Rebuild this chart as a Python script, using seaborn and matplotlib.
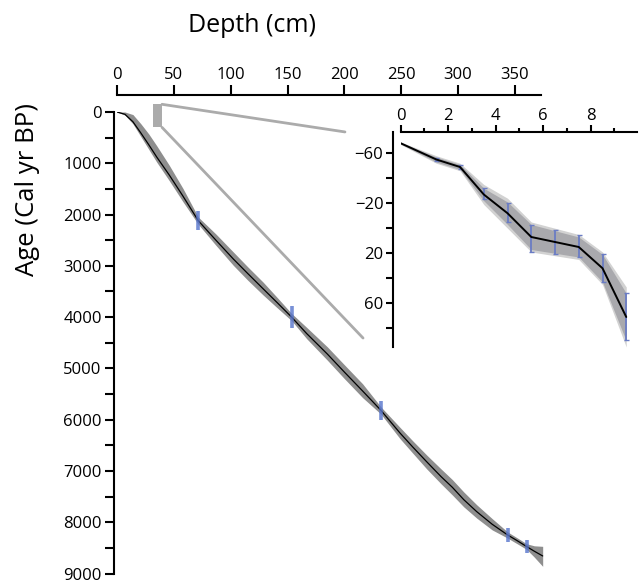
import numpy as np
import pandas as pd
import matplotlib
matplotlib.use("Agg")
import matplotlib.pyplot as plt
import seaborn as sns
from matplotlib.patches import Rectangle
from matplotlib.ticker import MultipleLocator

# ---------------- data ----------------
depth = [0, 7, 14, 21, 28, 35, 46, 58, 71.5, 87, 102.3, 115, 128.6, 141, 153.6,
         166.8, 185, 200.0, 216, 232.1, 248.9, 260, 272.4, 285, 295.0, 305,
         316.4, 330, 343.6, 352, 360.3, 367, 374.4]
age = [0, 45, 190, 410, 640, 880, 1230, 1640, 2120, 2500, 2866, 3150, 3449,
       3720, 4000, 4320, 4720, 5072, 5440, 5817, 6260, 6530, 6821, 7110, 7320,
       7560, 7794, 8040, 8249, 8360, 8475, 8565, 8658]
age_lo = [0, 0, 50, 230, 430, 660, 1040, 1490, 2050, 2380, 2730, 3020, 3320,
          3620, 3930, 4200, 4580, 4930, 5300, 5750, 6150, 6410, 6690, 6960,
          7170, 7410, 7660, 7930, 8190, 8305, 8420, 8460, 8470]
age_hi = [0, 60, 230, 480, 730, 980, 1340, 1750, 2190, 2600, 2990, 3280,
          3570, 3820, 4070, 4420, 4840, 5200, 5570, 5890, 6370, 6650, 6960,
          7250, 7470, 7700, 7920, 8150, 8310, 8420, 8530, 8680, 8860]

date_depth = [71.5, 153.6, 232.1, 343.6, 360.3]
date_age = [2120, 4000, 5817, 8249, 8475]
date_err = [190, 210, 190, 145, 130]

# inset (top ~10 cm)
in_depth = [0, 1.5, 2.5, 3.5, 4.5, 5.5, 6.5, 7.5, 8.5, 9.5]
in_age = [-68, -55, -49, -27, -12, 7, 11, 15, 32, 71]
in_outer = [1, 3, 3, 8, 12, 12, 11, 10, 13, 24]
in_inner = [0.5, 2, 2, 5, 9, 10, 9, 8, 11, 19]
in_date_depth = [1.5, 2.5, 3.5, 4.5, 5.5, 6.5, 7.5, 8.5, 9.5]
in_date_age = [-55, -49, -28, -13, 8, 11, 14, 32, 70.5]
in_date_err = [1, 1.3, 4.5, 7.6, 10.7, 9.3, 8.7, 11.2, 19]

main_xticks = [0, 50, 100, 150, 200, 250, 300, 350]
main_yticks = [0, 1000, 2000, 3000, 4000, 5000, 6000, 7000, 8000, 9000]
in_xticks = [0, 2, 4, 6, 8]
in_yticks = [-60, -20, 20, 60]

# zoom indicator (data coordinates of main axes)
zoom_box = (31.7, -150, 39.6, 300)
zoom_line1 = ([39.6, 200.5], [-150, 389])
zoom_line2 = ([39.6, 216.4], [300, 4408])

# ---------------- style ----------------
sns.set_theme(style="ticks")
plt.rcParams['font.family'] = ['Open Sans', 'DejaVu Sans']
plt.rcParams['axes.linewidth'] = 1.5
plt.rcParams['xtick.major.width'] = 1.5
plt.rcParams['ytick.major.width'] = 1.5
plt.rcParams['xtick.minor.width'] = 1.5
plt.rcParams['ytick.minor.width'] = 1.5

W, H = 639, 582
fig = plt.figure(figsize=(W / 100, H / 100), dpi=100)
fig.patch.set_facecolor('white')

# ---------------- main axes ----------------
ax = fig.add_axes([117 / W, (H - 573.5) / H, 427.5 / W, 461.5 / H])
ax.set_facecolor('none')

ax.fill_between(depth, age_lo, age_hi, color='#8e8e8e', lw=0, zorder=2)
main_df = pd.DataFrame({'depth': depth, 'age': age})
sns.lineplot(data=main_df, x='depth', y='age', ax=ax, color='black', lw=0.9,
             estimator=None, sort=False, zorder=3)
ax.vlines(date_depth, np.array(date_age) - np.array(date_err),
          np.array(date_age) + np.array(date_err), color='#5674cc',
          lw=2.6, alpha=0.8, zorder=4)

# zoom indicator
rx0, ry0, rx1, ry1 = zoom_box
ax.add_patch(Rectangle((rx0, ry0), rx1 - rx0, ry1 - ry0, facecolor='#ababab',
                       edgecolor='none', clip_on=False, zorder=1))
ax.plot(*zoom_line1, color='#ababab', lw=2.0, clip_on=False, zorder=1)
ax.plot(*zoom_line2, color='#ababab', lw=2.0, clip_on=False, zorder=1)

ax.set_xlim(0, 376)
ax.set_ylim(9000, 0)
ax.xaxis.tick_top()
ax.set_xticks(main_xticks)
ax.set_yticks(main_yticks)
ax.yaxis.set_minor_locator(MultipleLocator(500))
ax.set_xlabel('')
ax.set_ylabel('')
for s in ['right', 'bottom']:
    ax.spines[s].set_visible(False)
ax.spines['top'].set_position(('outward', 12))
ax.spines['left'].set_position(('outward', 2))
ax.spines['top'].set_bounds(0, 373)
ax.spines['left'].set_bounds(0, 9000)
ax.spines['top'].set_color('black')
ax.spines['left'].set_color('black')
ax.tick_params(axis='x', which='major', direction='out', length=7, pad=2,
               labelsize=12, colors='black', top=True, bottom=False)
ax.tick_params(axis='y', which='both', direction='out', length=6.5, pad=2.5,
               labelsize=12, colors='black')

fig.text(252.5 / W, 1 - 25 / H, 'Depth (cm)', ha='center', va='center',
         fontsize=18, color='black')
fig.text(28 / W, 1 - 190 / H, 'Age (Cal yr BP)', ha='center', va='center',
         rotation=90, fontsize=18.5, color='black')

# ---------------- inset axes ----------------
ax2 = fig.add_axes([400.7 / W, (H - 347) / H, 236 / W, 215 / H])
ax2.set_facecolor('none')
ia = np.array(in_age)
ax2.fill_between(in_depth, ia - np.array(in_outer), ia + np.array(in_outer),
                 color='#d2d2d2', lw=0, zorder=1)
ax2.fill_between(in_depth, ia - np.array(in_inner), ia + np.array(in_inner),
                 color='#a9a9ad', lw=0, zorder=2)
in_df = pd.DataFrame({'depth': in_depth, 'age': in_age})
sns.lineplot(data=in_df, x='depth', y='age', ax=ax2, color='black', lw=1.4,
             estimator=None, sort=False, zorder=4)
ax2.errorbar(in_date_depth, in_date_age, yerr=in_date_err, fmt='none',
             ecolor='#6a7cc4', elinewidth=1.3, capsize=1.8, capthick=1.0,
             zorder=3)

ax2.set_xlim(0, 9.94)
ax2.set_ylim(95, -77)
ax2.xaxis.tick_top()
ax2.set_xticks(in_xticks)
ax2.xaxis.set_minor_locator(MultipleLocator(1))
ax2.set_yticks(in_yticks)
ax2.yaxis.set_minor_locator(MultipleLocator(20))
ax2.set_xlabel('')
ax2.set_ylabel('')
for s in ['right', 'bottom']:
    ax2.spines[s].set_visible(False)
ax2.spines['left'].set_position(('outward', 5.5))
ax2.spines['top'].set_color('black')
ax2.spines['left'].set_color('black')
ax2.tick_params(axis='x', which='major', direction='out', length=5, pad=0.5,
                labelsize=12, colors='black', top=True, bottom=False)
ax2.tick_params(axis='x', which='minor', direction='out', length=3,
                top=True, bottom=False, colors='black')
ax2.tick_params(axis='y', which='both', direction='out', length=5, pad=2,
                labelsize=12, colors='black')

fig.savefig('out.png', dpi=100, facecolor='white')
